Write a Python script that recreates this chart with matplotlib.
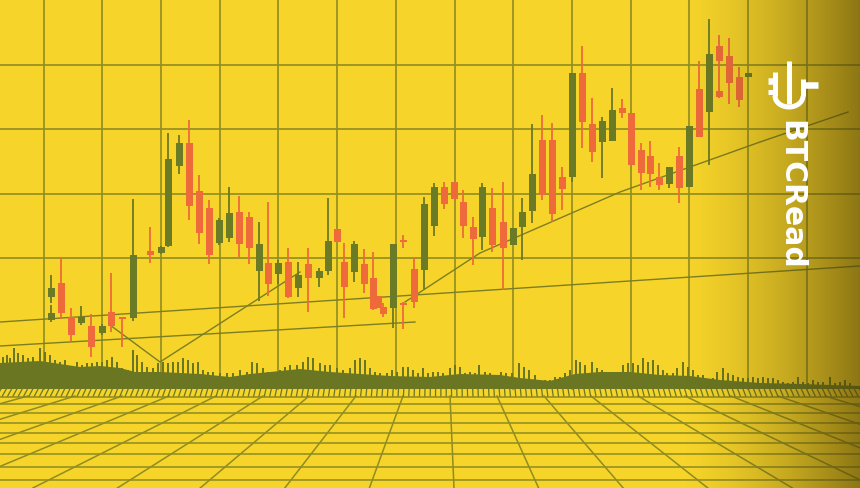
import matplotlib
matplotlib.use("Agg")
import matplotlib.pyplot as plt
import numpy as np
from matplotlib.patches import Arc

# ---------------- data (price axis is inverted) -------------
candle_t = [51, 51, 61, 71, 81, 91, 102, 111, 122, 133, 150, 161, 168, 179, 189, 199, 209,
            219, 229, 239, 249, 259, 268, 278, 288, 298, 308, 319, 328, 337, 344, 354, 364,
            373, 378, 383, 393, 403, 403, 414, 424, 434, 444, 454, 463, 473, 482, 492, 503,
            513, 522, 532, 542, 552, 562, 572, 582, 592, 602, 612, 622, 631, 641, 650, 659,
            669, 679, 689, 699, 709, 719, 719, 729, 739, 748]
candle_o = [297, 320, 283, 317, 323, 326, 333, 312, 317, 318, 251, 253, 246, 166, 143, 191, 208,
            243, 238, 212, 217, 271, 263, 274, 262, 288, 264, 278, 271, 229, 262, 272, 264,
            278, 296, 307, 308, 240, 303, 269, 270, 226, 187, 182, 202, 227, 237, 208, 222,
            245, 227, 211, 140, 140, 177, 177, 73, 124, 142, 141, 108, 113, 150, 156, 177,
            184, 156, 187, 89, 112, 46, 91, 56, 77, 77]
candle_h = [275, 305, 258, 308, 306, 314, 324, 273, 317, 199, 227, 246, 133, 135, 120, 175, 200,
            218, 187, 196, 212, 222, 202, 260, 248, 262, 248, 268, 198, 229, 243, 241, 249,
            252, 296, 303, 244, 235, 302, 258, 197, 183, 182, 182, 190, 217, 183, 188, 182,
            228, 198, 124, 115, 123, 167, 73, 46, 98, 117, 88, 99, 113, 143, 141, 163,
            167, 147, 126, 61, 19, 35, 91, 38, 67, 73]
candle_l = [303, 322, 319, 341, 325, 357, 335, 332, 347, 321, 263, 254, 247, 174, 220, 244, 264,
            245, 242, 258, 264, 301, 296, 284, 298, 297, 312, 287, 275, 242, 318, 282, 293,
            310, 308, 317, 328, 248, 329, 308, 289, 236, 209, 199, 238, 265, 250, 252, 290,
            245, 260, 223, 200, 222, 210, 182, 148, 162, 178, 141, 118, 166, 190, 187, 190,
            188, 203, 187, 137, 165, 98, 98, 104, 107, 77]
candle_c = [288, 313, 313, 335, 317, 347, 326, 326, 318, 255, 255, 247, 159, 143, 206, 233, 255,
            220, 213, 244, 248, 244, 284, 263, 297, 275, 278, 271, 241, 242, 287, 244, 284,
            309, 308, 314, 244, 241, 305, 302, 204, 187, 204, 199, 226, 239, 187, 245, 248,
            228, 212, 174, 195, 214, 189, 73, 122, 152, 121, 110, 113, 165, 173, 174, 185,
            167, 188, 126, 137, 54, 61, 97, 83, 100, 73]

vol_t = [3, 7, 10, 14, 18, 23, 28, 33, 40, 45, 50, 55, 60, 65, 70, 77, 82, 87, 92, 97, 102, 107,
         112, 117, 122, 128, 133, 137, 142, 147, 153, 158, 163, 168, 173, 178, 183, 188, 193,
         198, 203, 208, 213, 220, 227, 233, 240, 247, 252, 257, 263, 268, 273, 280, 285, 290,
         297, 303, 308, 313, 320, 325, 330, 337, 343, 350, 355, 360, 365, 370, 375, 380, 387,
         392, 397, 403, 408, 413, 418, 423, 428,
         433, 438, 443, 450, 455, 460, 465, 470, 475, 479, 485, 490, 495, 501, 506, 512, 519,
         524, 529, 535, 540, 545, 550, 555, 560, 565, 570, 576, 580, 585, 592, 597, 602, 607,
         612, 617, 623, 628, 633, 638, 643, 648, 653, 658, 663, 667, 673, 677, 683, 688, 693,
         698, 703, 708, 713, 717, 723, 728, 733, 738, 743, 748, 753, 758, 763, 768, 773, 778,
         783, 788, 793, 798, 803, 808, 813, 818, 823, 830, 835, 840, 845, 850]
vol_top = [357, 355, 358, 348, 353, 355, 358, 357, 348, 352, 355, 360, 362, 360, 368, 362, 365,
           363, 363, 362, 362, 360, 357, 362, 368, 370, 350, 355, 362, 367, 368, 363, 362, 363,
           362, 362, 358, 360, 363, 362, 370, 372, 372, 373, 373, 373, 370, 372, 362, 363, 368,
           372, 373, 370, 367, 365, 365, 362, 357, 358, 363, 365, 365, 368, 370, 368, 360, 358,
           360, 368, 372, 373, 373, 370, 372, 367, 367, 370, 373, 368, 373,
           372, 372, 373, 368, 365, 367, 373, 372, 373, 365, 372, 373, 377, 372, 373, 373, 363,
           367, 370, 375, 380, 380, 380, 377, 377, 373, 370, 360, 362, 365, 362, 368, 370, 373,
           373, 372, 365, 363, 363, 365, 358, 362, 360, 365, 370, 373, 373, 368, 362, 367, 370,
           375, 375, 380, 378, 372, 368, 373, 375, 377, 378, 378, 377, 378, 377, 378, 378, 380,
           382, 383, 382, 377, 382, 383, 380, 382, 382, 377, 383, 382, 380, 383]
base_t = [0, 20, 40, 60, 80, 100, 120, 135, 160, 200, 230, 250, 280, 300, 330, 360, 390, 430,
          460, 500, 520, 550, 575, 600, 630, 660, 690, 720, 760, 800, 860]
base_top = [363, 362, 361, 364, 367, 366, 368, 372, 372, 374, 377, 374, 371, 369, 372, 374, 376,
            377, 374, 375, 378, 381, 374, 372, 372, 375, 376, 380, 383, 384, 386]

grid_x = [44, 102, 161, 220, 278, 337, 396, 455, 513, 572, 631, 689, 748, 807]
grid_y = [65, 129, 194, 258]

trend_a_t = [0, 860]
trend_a_v = [322, 266]
trend_b_t = [0, 415]
trend_b_v = [346, 322]
trend_v_t = [110, 160, 300]
trend_v_v = [325, 362, 272]
trend_d_t = [405, 480, 620, 760, 848]
trend_d_v = [302, 253, 192, 142, 112]

floor_x = [28, 75, 122, 169, 216, 263, 309, 356, 403, 450, 497, 544, 591, 638, 685, 731, 778, 825]
floor_y = [397, 404, 413, 423, 433, 443, 454, 467, 480]

# ---------------- style -------------
BG = "#F6D42A"
GREEN = "#6B7A24"
RED = "#EE6A3A"
GRID = "#8F8C22"
VOL = "#6A7622"

fig = plt.figure(figsize=(8.6, 4.88), dpi=100)
fig.patch.set_facecolor(BG)
ax = fig.add_axes([0, 0, 1, 1])
ax.set_facecolor(BG)
ax.set_xlim(0, 860)
ax.set_ylim(488, 0)
ax.axis("off")

# grid
for gx in grid_x:
    ax.plot([gx, gx], [0, 389], color=GRID, lw=1.2, zorder=1)
for gy in grid_y:
    ax.plot([0, 860], [gy, gy], color=GRID, lw=1.2, zorder=1)

# floor
VX, VY = 445, 267.5
FLOOR_TOP = 390
for fy in floor_y:
    ax.plot([0, 860], [fy, fy], color=GRID, lw=1.1, zorder=1)
f = (488 - VY) / (FLOOR_TOP - VY)
for fx in floor_x:
    ax.plot([fx, VX + (fx - VX) * f], [FLOOR_TOP + 6, 488], color=GRID, lw=1.1, zorder=1)
# hatch strip
for hx in np.arange(1, 862, 5.3):
    ax.plot([hx, hx + (hx - VX) * 0.009], [389, 396], color=VOL, lw=0.9, zorder=2)

# trend lines
for tt, vv in [(trend_a_t, trend_a_v), (trend_b_t, trend_b_v),
               (trend_v_t, trend_v_v), (trend_d_t, trend_d_v)]:
    ax.plot(tt, vv, color="#7D7E22", lw=1.0, zorder=2)

# volume
ax.fill_between(base_t, base_top, 389, color=VOL, lw=0, zorder=3)
ax.bar(vol_t, np.array(389) - np.array(vol_top), bottom=vol_top, width=2.6,
       color=VOL, lw=0, zorder=3)

# candles
for t, o, h, l, c in zip(candle_t, candle_o, candle_h, candle_l, candle_c):
    col = GREEN if c < o else RED
    ax.vlines(t, h, l, color=col, lw=1.3, zorder=4)
    lo, hi = min(o, c), max(o, c)
    ax.bar(t, max(hi - lo, 1.5), bottom=lo, width=7, color=col, lw=0, zorder=5)

# right-edge darkening
xs = np.linspace(0, 860, 430)
alpha = np.clip((xs - 680) / 180, 0, 1) ** 1.5 * 0.62
rgba = np.zeros((1, len(xs), 4))
rgba[..., 0] = 0.30
rgba[..., 1] = 0.24
rgba[..., 2] = 0.03
rgba[..., 3] = alpha
ax.imshow(rgba, extent=[0, 860, 488, 0], aspect="auto", zorder=8, interpolation="bilinear")
ax.set_xlim(0, 860)
ax.set_ylim(488, 0)

# logo
W = "white"
lw = 3.6
ax.plot([775, 775], [72, 96], color=W, lw=lw, zorder=10, solid_capstyle="butt")
ax.plot([803, 803], [79, 96], color=W, lw=lw, zorder=10, solid_capstyle="butt")
ax.add_patch(Arc((789, 96), 28, 22, theta1=0, theta2=180, color=W, lw=lw, zorder=10))
ax.plot([789, 789], [61, 104], color=W, lw=lw, zorder=10, solid_capstyle="butt")
ax.plot([768, 776], [81, 81], color=W, lw=lw * 1.3, zorder=10, solid_capstyle="butt")
ax.plot([768, 776], [92, 92], color=W, lw=lw * 1.0, zorder=10, solid_capstyle="butt")
ax.plot([802, 818], [85, 85], color=W, lw=lw * 1.3, zorder=10, solid_capstyle="butt")
ax.text(791, 195, "BTCRead", rotation=270, color=W, fontsize=21.5, fontweight="bold",
        family="DejaVu Sans", ha="center", va="center", zorder=10)

fig.savefig("out.png", dpi=100, facecolor=BG)
